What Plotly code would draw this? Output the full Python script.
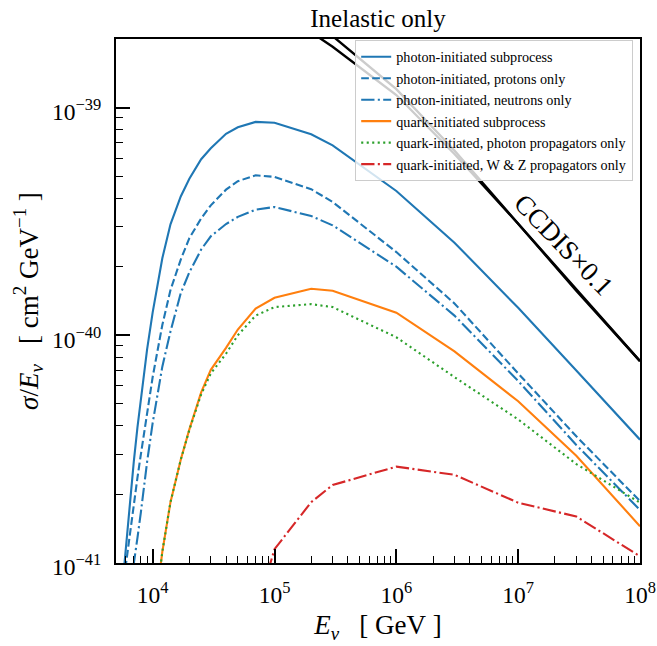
import numpy as np
import plotly.graph_objects as go

# ---- data: neutrino energy (GeV) and sigma/E (cm^2 GeV^-1) ----
E_photon = [5.5e3, 6e3, 6.5e3, 7e3, 7.5e3, 8e3, 9e3, 1e4, 1.2e4, 1.4e4, 1.7e4,
            2e4, 2.5e4, 3e4, 4e4, 5e4, 7e4, 1e5, 2e5, 3e5, 1e6, 3e6, 1e7, 3e7, 1e8]
photon_total = [6.8e-42, 1.16e-41, 1.84e-41, 2.79e-41, 3.94e-41, 5.33e-41, 8.67e-41,
                1.26e-40, 2.18e-40, 3.07e-40, 4.07e-40, 4.87e-40, 5.93e-40, 6.62e-40,
                7.67e-40, 8.19e-40, 8.65e-40, 8.57e-40, 7.63e-40, 6.82e-40, 4.3e-40,
                2.55e-40, 1.32e-40, 7.0e-41, 3.48e-41]
photon_protons = [6.8e-42, 9.8e-42, 1.36e-41, 1.85e-41, 2.37e-41, 3.0e-41, 4.58e-41,
                  6.56e-41, 1.11e-40, 1.58e-40, 2.15e-40, 2.67e-40, 3.26e-40, 3.72e-40,
                  4.36e-40, 4.75e-40, 5.04e-40, 4.96e-40, 4.38e-40, 3.85e-40, 2.32e-40,
                  1.38e-40, 6.8e-41, 3.6e-41, 1.87e-41]
photon_neutrons = [4.0e-42, 5.5e-42, 7.3e-42, 9.7e-42, 1.29e-41, 1.67e-41, 2.78e-41,
                   4.12e-41, 7.28e-41, 1.04e-40, 1.53e-40, 1.89e-40, 2.38e-40, 2.72e-40,
                   3.08e-40, 3.31e-40, 3.56e-40, 3.66e-40, 3.34e-40, 3.04e-40, 2.0e-40,
                   1.22e-40, 6.3e-41, 3.3e-41, 1.71e-41]

E_quark = [1.1e4, 1.2e4, 1.4e4, 1.7e4, 2e4, 2.5e4, 3e4, 4e4, 5e4, 7e4, 1e5, 2e5,
           3e5, 1e6, 3e6, 1e7, 3e7, 1e8]
quark_total = [7.7e-42, 1.12e-41, 1.85e-41, 2.84e-41, 3.86e-41, 5.61e-41, 7.05e-41,
               8.8e-41, 1.06e-40, 1.31e-40, 1.46e-40, 1.60e-40, 1.57e-40, 1.256e-40,
               8.5e-41, 5.13e-41, 2.96e-41, 1.45e-41]
quark_photon_prop = [7.7e-42, 1.12e-41, 1.85e-41, 2.84e-41, 3.84e-41, 5.5e-41, 6.8e-41,
                     8.3e-41, 1.0e-40, 1.22e-40, 1.33e-40, 1.37e-40, 1.33e-40, 9.8e-41,
                     6.55e-41, 4.27e-41, 2.72e-41, 1.84e-41]

E_wz = [7e4, 1e5, 2e5, 3e5, 1e6, 3e6, 1e7, 3e7, 1e8]
quark_wz_prop = [6e-42, 1.15e-41, 1.85e-41, 2.2e-41, 2.65e-41, 2.44e-41, 1.84e-41,
                 1.6e-41, 1.07e-41]

# charged-current DIS reference curves, already scaled by 0.1
E_ccdis = [2e5, 3e5, 1e6, 3e6, 1e7, 3e7, 1e8]
ccdis_a = [2.14e-39, 1.85e-39, 1.135e-39, 6.25e-40, 3.09e-40, 1.57e-40, 7.7e-41]
ccdis_b = [2.44e-39, 2.06e-39, 1.205e-39, 6.48e-40, 3.09e-40, 1.60e-40, 7.7e-41]

legend_names = [
    "photon-initiated subprocess",
    "photon-initiated, protons only",
    "photon-initiated, neutrons only",
    "quark-initiated subprocess",
    "quark-initiated, photon propagators only",
    "quark-initiated, W &amp; Z propagators only",
]

x_major = [1e4, 1e5, 1e6, 1e7, 1e8]
x_major_text = ["10<sup>4</sup>", "10<sup>5</sup>", "10<sup>6</sup>", "10<sup>7</sup>", "10<sup>8</sup>"]
y_major = [1e-41, 1e-40, 1e-39]
y_major_text = ["10<sup>\u221241</sup>", "10<sup>\u221240</sup>", "10<sup>\u221239</sup>"]

# ---- styling ----
SERIF = "Liberation Serif, Times New Roman, serif"
BLUE, ORANGE, GREEN, RED = "#1f77b4", "#ff7f0e", "#2ca02c", "#d62728"
LW = 2.1
DASHED = "7.7px,3.3px"
DASHDOT = "13.3px,3.3px,2.1px,3.3px"
DOTTED = "2.1px,3.4px"
SP = "\u00a0"

x_lo, x_hi = 5e3, 1e8
y_lo, y_hi = 1e-41, 2e-39
x_minor = [m * 10.0 ** k for k in range(3, 8) for m in range(2, 10)
           if x_lo < m * 10.0 ** k < x_hi]
y_minor = [m * 10.0 ** k for k in range(-41, -38) for m in range(2, 10)
           if y_lo < m * 10.0 ** k <= y_hi]

fig = go.Figure()

for ys in (ccdis_a, ccdis_b):
    fig.add_trace(go.Scatter(x=E_ccdis, y=ys, mode="lines", showlegend=False,
                             line=dict(color="black", width=2.4), hoverinfo="skip"))

series = [
    (E_photon, photon_total, BLUE, "solid"),
    (E_photon, photon_protons, BLUE, DASHED),
    (E_photon, photon_neutrons, BLUE, DASHDOT),
    (E_quark, quark_total, ORANGE, "solid"),
    (E_quark, quark_photon_prop, GREEN, DOTTED),
    (E_wz, quark_wz_prop, RED, DASHDOT),
]
for (xs, ys, col, dash), name in zip(series, legend_names):
    fig.add_trace(go.Scatter(x=xs, y=ys, mode="lines", name=name,
                             line=dict(color=col, width=LW, dash=dash)))

axis_common = dict(
    type="log", showline=True, mirror=True, linecolor="black", linewidth=2,
    ticks="inside", ticklen=14, tickwidth=1.8, tickcolor="black",
    tickmode="array", showgrid=False, zeroline=False, automargin=False,
    tickfont=dict(family=SERIF, size=23.5, color="black"),
)

x_title = f"<i>E</i><sub><i>\u03bd</i></sub>{SP*3}[{SP}GeV{SP}]"
y_title = (f"<i>\u03c3</i>/<i>E</i><sub><i>\u03bd</i></sub>{SP*3}[{SP}cm<sup>2</sup>"
           f"{SP}GeV<sup>\u22121</sup>{SP}]")

fig.update_layout(
    width=657, height=646,
    margin=dict(l=116, r=17, t=39, b=83),
    paper_bgcolor="white", plot_bgcolor="white",
    font=dict(family=SERIF, color="black"),
    title=dict(text="Inelastic only", x=0.5, xref="paper", xanchor="center",
               y=1 - 18 / 646, yref="container", yanchor="middle",
               font=dict(family=SERIF, size=25, color="black")),
    xaxis=dict(
        **axis_common,
        range=[np.log10(x_lo), np.log10(x_hi)],
        tickvals=x_major, ticktext=x_major_text, ticklabelstandoff=10,
        minor=dict(ticks="inside", ticklen=7, tickwidth=1.2, tickcolor="black",
                   tickmode="array", tickvals=x_minor, showgrid=False),
        title=dict(text=x_title, standoff=8,
                   font=dict(family=SERIF, size=27, color="black")),
    ),
    yaxis=dict(
        **axis_common,
        range=[np.log10(y_lo), np.log10(y_hi)],
        tickvals=y_major, ticktext=y_major_text, ticklabelstandoff=8,
        ticklabelshift=4,
        minor=dict(ticks="inside", ticklen=7, tickwidth=1.2, tickcolor="black",
                   tickmode="array", tickvals=y_minor, showgrid=False),
        title=dict(text=y_title, standoff=6,
                   font=dict(family=SERIF, size=27, color="black")),
    ),
    legend=dict(x=0.987, y=0.998, xanchor="right", yanchor="top",
                bgcolor="rgba(255,255,255,0.8)", bordercolor="#cccccc", borderwidth=1,
                font=dict(family=SERIF, size=14.2, color="black"),
                itemwidth=30, tracegroupgap=0),
    annotations=[dict(text="CCDIS\u00d70.1", xref="x", yref="y",
                      x=7.374, y=-39.605, showarrow=False, textangle=46,
                      font=dict(family=SERIF, size=27, color="black"))],
)

fig.write_html("out.html")
